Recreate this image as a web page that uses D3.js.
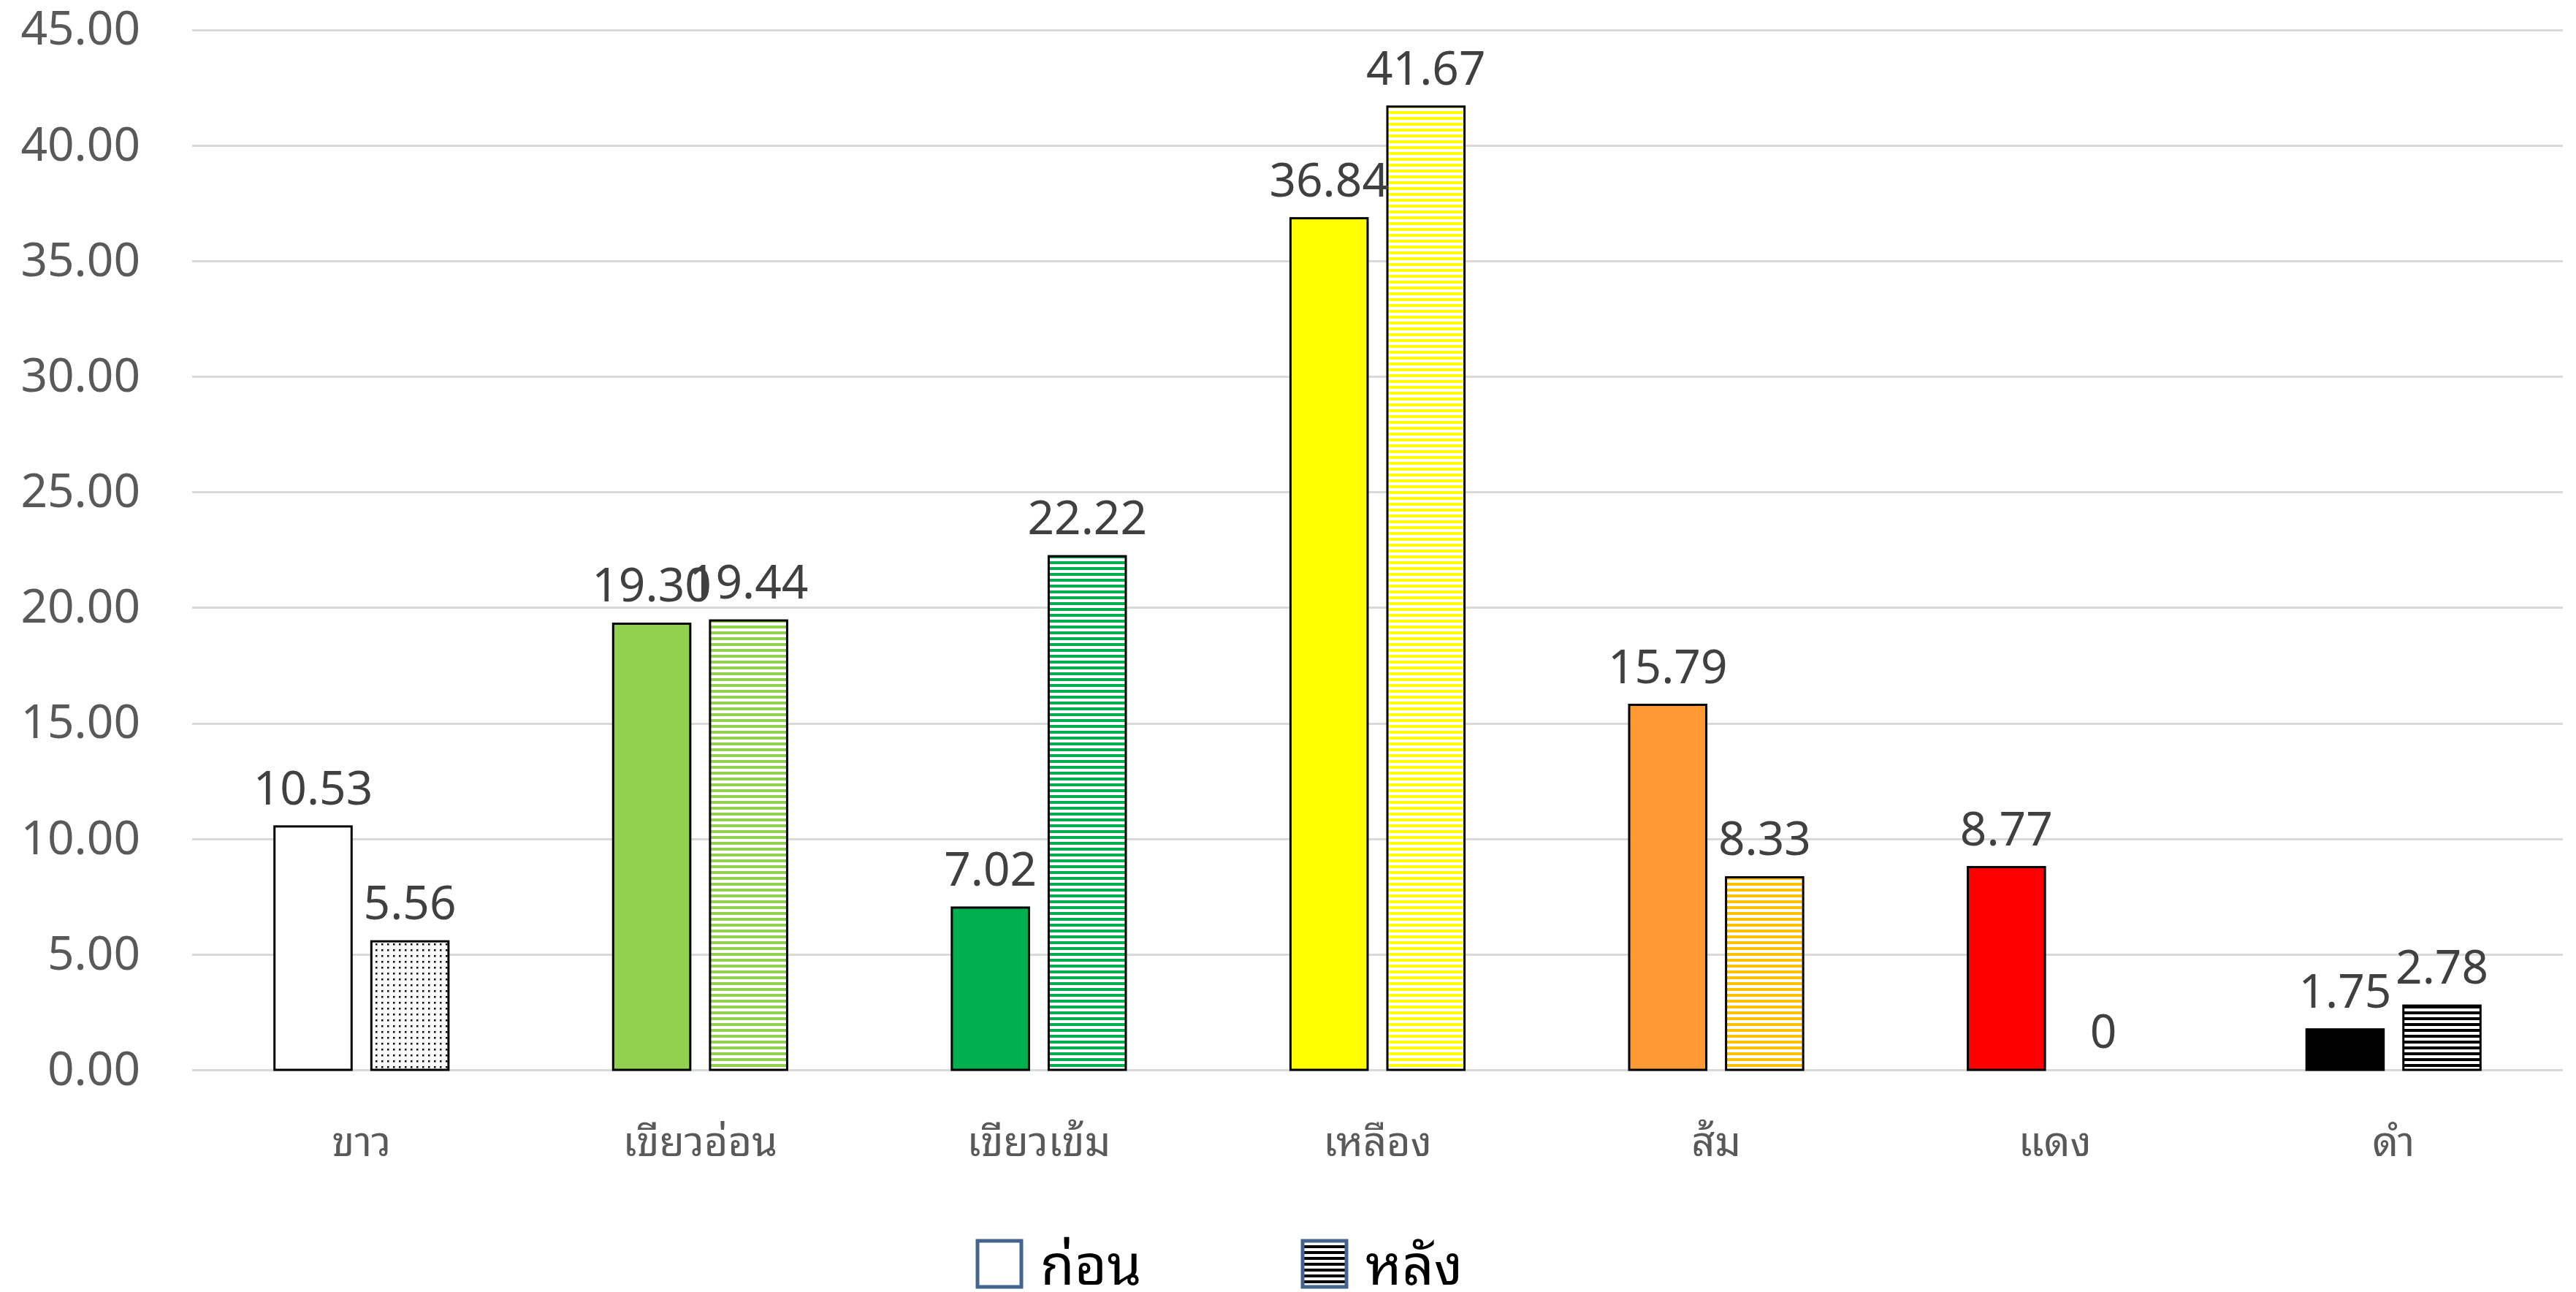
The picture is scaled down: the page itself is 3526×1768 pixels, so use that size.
<!DOCTYPE html>
<html lang="th">
<head>
    <meta charset="UTF-8">
    <title>Before / after chart</title>
    <script src="https://cdn.jsdelivr.net/npm/d3@7/dist/d3.min.js"></script>
    <style>
        body { margin: 0; background: #fff; }
        svg g.yaxis line { stroke: #d9d9d9; stroke-width: 3; shape-rendering: crispEdges; }
        svg g.yaxis text { font-family: "Noto Sans", "Open Sans", sans-serif; font-size: 64px; fill: #595959; }
        svg g.xaxis text { font-family: "Noto Sans Thai Looped", "Loma", "Garuda", "Norasi", "Noto Sans Thai", sans-serif; font-size: 56px; fill: #595959; }
        .dlabel { font-family: "Noto Sans", "Open Sans", sans-serif; font-size: 64px; fill: #404040; }
        .legend text { font-family: "Noto Sans Thai Looped", "Loma", "Garuda", "Norasi", "Noto Sans Thai", sans-serif; font-size: 76px; font-weight: normal; fill: #000; }
    </style>
</head>
<body>
    <script>
        //data
        var categories = ['ขาว', 'เขียวอ่อน', 'เขียวเข้ม', 'เหลือง', 'ส้ม', 'แดง', 'ดำ'];
        var series = ['ก่อน', 'หลัง'];
        var before = [10.53, 19.30, 7.02, 36.84, 15.79, 8.77, 1.75];
        var after = [5.56, 19.44, 22.22, 41.67, 8.33, 0, 2.78];
        var yTicks = [0, 5, 10, 15, 20, 25, 30, 35, 40, 45];

        //colours for each category (after bars use stripes of the second colour)
        var beforeColors = ['#ffffff', '#92d050', '#00b050', '#ffff00', '#ff9933', '#ff0000', '#000000'];
        var afterColors = ['#000000', '#92d050', '#00b050', '#ffff00', '#ffc000', '#ff0000', '#000000'];

        //size and plot area
        var w = 3526;
        var h = 1768;
        var plotLeft = 263, plotRight = 3508, plotTop = 40.5, plotBottom = 1464;

        var svg = d3.select('body')
                    .append('svg')
                    .attr('width', w)
                    .attr('height', h);

        //patterns
        var defs = svg.append('defs');
        afterColors.forEach(function(c, i) {
            var p = defs.append('pattern')
                .attr('id', 'pat' + i)
                .attr('patternUnits', 'userSpaceOnUse')
                .attr('width', 8)
                .attr('height', 8);
            p.append('rect').attr('width', 8).attr('height', 8).attr('fill', '#fff');
            if (i === 0) {
                //dotted pattern
                p.append('rect').attr('x', 3).attr('y', 3).attr('width', 2.5).attr('height', 2.5).attr('fill', '#000');
            } else {
                p.append('rect').attr('width', 8).attr('height', 4).attr('fill', c);
            }
        });
        var legendPat = defs.append('pattern')
            .attr('id', 'patLegend')
            .attr('patternUnits', 'userSpaceOnUse')
            .attr('width', 8).attr('height', 8);
        legendPat.append('rect').attr('width', 8).attr('height', 8).attr('fill', '#fff');
        legendPat.append('rect').attr('width', 8).attr('height', 4).attr('fill', '#000');

        //scales
        var x0 = d3.scaleBand()
                    .domain(categories)
                    .range([plotLeft, plotRight]);

        var x1 = d3.scaleBand()
                    .domain(series)
                    .range([0, x0.bandwidth()])
                    .paddingInner(0.204)
                    .paddingOuter(0.85);

        var yScale = d3.scaleLinear()
                    .domain([0, 45])
                    .range([plotBottom, plotTop]);

        //y axis with gridlines
        var yAxis = d3.axisLeft(yScale)
                    .tickValues(yTicks)
                    .tickFormat(d3.format('.2f'))
                    .tickSize(-(plotRight - plotLeft))
                    .tickPadding(71);

        svg.append('g')
            .attr('class', 'yaxis')
            .attr('transform', 'translate(' + plotLeft + ',0)')
            .call(yAxis)
            .call(function(g) { g.select('.domain').remove(); });

        //x axis labels
        var xAxis = d3.axisBottom(x0)
                    .tickSize(0)
                    .tickPadding(78);

        svg.append('g')
            .attr('class', 'xaxis')
            .attr('transform', 'translate(0,' + plotBottom + ')')
            .call(xAxis)
            .call(function(g) { g.select('.domain').remove(); });

        //bars
        var rows = categories.map(function(c, i) {
            return [
                { cat: c, s: series[0], v: before[i], fill: beforeColors[i] },
                { cat: c, s: series[1], v: after[i], fill: 'url(#pat' + i + ')' }
            ];
        });

        var groups = svg.selectAll('g.grp')
            .data(rows)
            .enter()
            .append('g')
            .attr('class', 'grp')
            .attr('transform', function(d) { return 'translate(' + x0(d[0].cat) + ',0)'; });

        groups.selectAll('rect')
            .data(function(d) { return d.filter(function(e) { return e.v > 0; }); })
            .enter()
            .append('rect')
            .attr('x', function(d) { return x1(d.s); })
            .attr('y', function(d) { return yScale(d.v); })
            .attr('width', x1.bandwidth())
            .attr('height', function(d) { return yScale(0) - yScale(d.v); })
            .attr('fill', function(d) { return d.fill; })
            .attr('stroke', '#000')
            .attr('stroke-width', 3);

        groups.selectAll('text')
            .data(function(d) { return d; })
            .enter()
            .append('text')
            .attr('class', 'dlabel')
            .attr('text-anchor', 'middle')
            .attr('x', function(d) { return x1(d.s) + x1.bandwidth() / 2; })
            .attr('y', function(d) { return yScale(d.v) - 30; })
            .text(function(d) { return d.v === 0 ? '0' : d3.format('.2f')(d.v); });

        //legend
        var legend = svg.append('g').attr('class', 'legend');
        var legendX = [1336, 1781];
        legend.selectAll('rect')
            .data(series)
            .enter()
            .append('rect')
            .attr('x', function(d, i) { return legendX[i] + 2; })
            .attr('y', 1698)
            .attr('width', 60)
            .attr('height', 63)
            .attr('fill', function(d, i) { return i === 0 ? '#fff' : 'url(#patLegend)'; })
            .attr('stroke', '#44638f')
            .attr('stroke-width', 5);

        legend.selectAll('text')
            .data(series)
            .enter()
            .append('text')
            .attr('x', function(d, i) { return legendX[i] + 88; })
            .attr('y', 1758)
            .text(function(d) { return d; });
    </script>
</body>
</html>
